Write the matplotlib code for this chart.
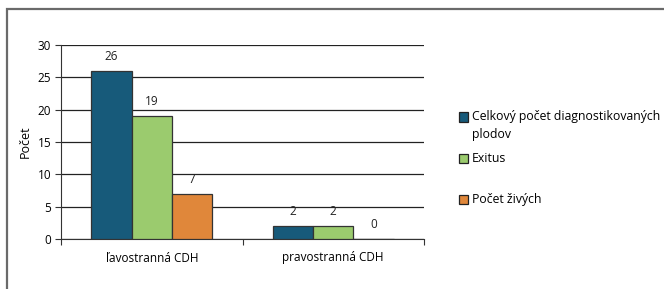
import numpy as np
import matplotlib.pyplot as plt
from matplotlib.patches import Rectangle

categories = ['ľavostranná CDH', 'pravostranná CDH']
series_names = ['Celkový počet diagnostikovaných\nplodov', 'Exitus', 'Počet živých']
celkovy = [26, 2]
exitus = [19, 2]
zivych = [7, 0]
yticks = [0, 5, 10, 15, 20, 25, 30]

colors = ['#175a7a', '#9bcb6e', '#e0873a']

plt.rcParams['font.family'] = ['Open Sans', 'DejaVu Sans']
plt.rcParams['font.size'] = 8.5

fig = plt.figure(figsize=(6.64, 2.89), dpi=100)
ax = fig.add_axes([61 / 664, 1 - 239 / 289, 363 / 664, 194 / 289])

# border round the whole chart
fig.patches.append(Rectangle((7 / 664, -0.1), 1.2, (289 - 8.5) / 289 + 0.1,
                             transform=fig.transFigure, fill=False,
                             edgecolor='#6a6a6a', linewidth=1.6))

x = np.arange(len(categories))
w = 0.222
all_series = [celkovy, exitus, zivych]
for i, vals in enumerate(all_series):
    pos = x + (i - 1) * w
    ax.bar(pos, vals, width=w, color=colors[i], edgecolor='#333333',
           linewidth=0.9, zorder=3)
    for p, v in zip(pos, vals):
        ax.text(p, v + 1.2, str(v), ha='center', va='bottom', fontsize=8.5,
                color='#222222')

ax.set_xlim(-0.5, 1.5)
ax.set_ylim(0, 30)
ax.set_yticks(yticks)
ax.set_xticks([-0.5, 0.5, 1.5])
ax.set_xticklabels([])
ax.set_xticks(x, minor=True)
ax.set_xticklabels(categories, minor=True)
ax.tick_params(axis='x', which='minor', length=0, pad=9)
ax.tick_params(axis='x', which='major', direction='out', length=4, color='#333333')
ax.tick_params(axis='y', direction='out', length=4, color='#333333', pad=3)
ax.yaxis.grid(True, color='#222222', linewidth=0.9, zorder=0)
ax.set_axisbelow(True)
for s in ['top', 'right']:
    ax.spines[s].set_visible(False)
ax.spines['left'].set_color('#333333')
ax.spines['bottom'].set_color('#333333')
ax.set_ylabel('Počet', fontsize=9, labelpad=4)

# legend drawn by hand
leg_y = [117, 158, 199]
for c, name, yy in zip(colors, series_names, leg_y):
    fig.patches.append(Rectangle((459 / 664, 1 - (yy + 4.5) / 289), 9 / 664, 9 / 289,
                                 transform=fig.transFigure, facecolor=c,
                                 edgecolor='#222222', linewidth=0.9))
    if '\n' in name:
        fig.text(472 / 664, 1 - (yy - 7) / 289, name, ha='left', va='top',
                 fontsize=8.8, linespacing=1.45)
    else:
        fig.text(472 / 664, 1 - yy / 289, name, ha='left', va='center', fontsize=8.8)

fig.savefig('out.png', dpi=100)
